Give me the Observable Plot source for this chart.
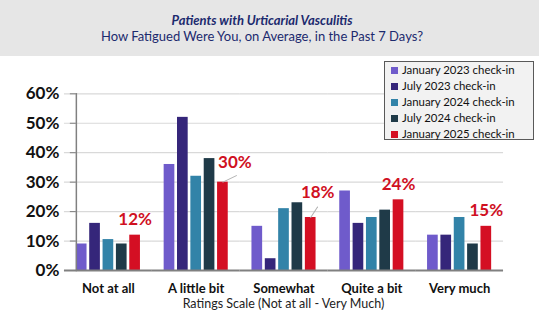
<!DOCTYPE html>
<html>
<head>
<meta charset="utf-8">
<script src="https://cdn.jsdelivr.net/npm/d3@7"></script>
<script src="https://cdn.jsdelivr.net/npm/@observablehq/plot@0.6"></script>
<style>
  html, body { margin: 0; padding: 0; background: #fff; }
  #wrap { position: relative; width: 539px; height: 331px; overflow: hidden; font-family: Lato, "Open Sans", sans-serif; }
  #header { position: absolute; left: 0; top: 0; width: 539px; height: 56px; background: #e6e6e6; }
  #title, #subtitle { position: absolute; left: 0; width: 524px; text-align: center; color: #1c2a6e; font-size: 13px; line-height: 13px; white-space: nowrap; }
  #title { top: 14px; font-weight: bold; font-style: italic; }
  #subtitle { top: 30px; }
  #chart { position: absolute; left: 0; top: 56px; }
  #xlabel { position: absolute; left: 64px; width: 439px; top: 298px; text-align: center; font-size: 12.5px; line-height: 12px; color: #222; white-space: nowrap; }
  #legend { position: absolute; left: 384px; top: 61px; width: 150px; height: 79px; background: #f2f2f2; border: 1px solid #595959; box-sizing: border-box; padding: 0 0 0 6px; }
  .lg { height: 16px; line-height: 16px; font-size: 11.4px; color: #111; white-space: nowrap; }
  .sw { display: inline-block; width: 7px; height: 7px; margin-right: 4px; vertical-align: 0px; }
</style>
</head>
<body>
<div id="wrap">
  <div id="header">
    <div id="title">Patients with Urticarial Vasculitis</div>
    <div id="subtitle">How Fatigued Were You, on Average, in the Past 7 Days?</div>
  </div>
  <div id="chart"></div>
  <div id="xlabel">Ratings Scale (Not at all - Very Much)</div>
  <div id="legend"></div>
</div>
<script>
const categories = ["Not at all", "A little bit", "Somewhat", "Quite a bit", "Very much"];
const series = ["January 2023 check-in", "July 2023 check-in", "January 2024 check-in", "July 2024 check-in", "January 2025 check-in"];
const jan2023 = [0.09, 0.36, 0.15, 0.27, 0.12];
const jul2023 = [0.16, 0.52, 0.04, 0.16, 0.12];
const jan2024 = [0.105, 0.32, 0.21, 0.18, 0.18];
const jul2024 = [0.09, 0.38, 0.23, 0.205, 0.09];
const jan2025 = [0.12, 0.30, 0.18, 0.24, 0.15];
const seriesColors = ["#6f5bcb", "#35267a", "#3283a8", "#1f3a48", "#d40f23"];
const yTicks = [0, 0.1, 0.2, 0.3, 0.4, 0.5, 0.6];

const allValues = [jan2023, jul2023, jan2024, jul2024, jan2025];
const data = [];
categories.forEach((c, i) => series.forEach((s, j) => data.push({category: c, series: s, value: allValues[j][i]})));
const labels = categories.map((c, i) => ({category: c, series: series[4], value: jan2025[i], text: Math.round(jan2025[i] * 100) + "%"}));
const centered = labels.filter(d => ["Not at all", "Quite a bit", "Very much"].includes(d.category));
const lab30 = labels.filter(d => d.category === "A little bit");
const lab18 = labels.filter(d => d.category === "Somewhat");
const line = {draw(context, l) { context.moveTo(0, 0); context.lineTo(0, -l); }};
const ext = -11.9; // extend per-facet rules across the gaps between facets

const plot = Plot.plot({
  width: 539,
  height: 244,
  marginLeft: 64,
  marginRight: 36,
  marginTop: 37.3,
  marginBottom: 30,
  style: {fontFamily: "Lato, 'Open Sans', sans-serif", background: "transparent", overflow: "visible"},
  fx: {domain: categories, paddingInner: 0.27, paddingOuter: 0.135, round: false},
  x: {domain: series, paddingInner: 0.2, paddingOuter: 0, round: false, axis: null},
  y: {domain: [0, 0.6]},
  color: {domain: series, range: seriesColors},
  marks: [
    Plot.ruleY(yTicks.slice(1), {stroke: "#d9d9d9", strokeWidth: 1.2, insetLeft: ext, insetRight: ext}),
    Plot.barY(data, {fx: "category", x: "series", y: "value", fill: "series"}),
    Plot.ruleY([0], {stroke: "#808080", strokeWidth: 2, insetLeft: ext, insetRight: ext}),
    Plot.frame({anchor: "left", stroke: "#808080", strokeWidth: 1.5, facet: "super"}),
    Plot.axisY({ticks: yTicks, tickFormat: d => Math.round(d * 100) + "%", tickSize: 6, tickPadding: 11, label: null, fontSize: 17, fontWeight: "bold", fill: "#111", stroke: "#808080"}),
    Plot.axisFx({anchor: "bottom", tickSize: 0, tickPadding: 13, label: null, fontSize: 13, fontWeight: "bold", fill: "#111"}),
    Plot.text(centered, {fx: "category", x: "series", y: "value", text: "text", lineAnchor: "bottom", dy: -10, fill: "#d0101f", fontSize: 17, fontWeight: "bold"}),
    Plot.text(lab30, {fx: "category", x: "series", y: "value", text: "text", lineAnchor: "bottom", dx: 12, dy: -14, fill: "#d0101f", fontSize: 17, fontWeight: "bold"}),
    Plot.text(lab18, {fx: "category", x: "series", y: "value", text: "text", lineAnchor: "bottom", dx: 7, dy: -19, fill: "#d0101f", fontSize: 17, fontWeight: "bold"}),
    Plot.vector(lab30, {fx: "category", x: "series", y: "value", length: 15, rotate: 64, anchor: "start", shape: line, stroke: "#b0b0b0", strokeWidth: 1}),
    Plot.vector(lab18, {fx: "category", x: "series", y: "value", length: 12.5, rotate: 33, anchor: "start", shape: line, stroke: "#b0b0b0", strokeWidth: 1})
  ]
});
document.getElementById("chart").appendChild(plot);

const legend = document.getElementById("legend");
series.forEach((s, j) => {
  const row = document.createElement("div");
  row.className = "lg";
  const sw = document.createElement("span");
  sw.className = "sw";
  sw.style.background = seriesColors[j];
  row.appendChild(sw);
  row.appendChild(document.createTextNode(s));
  legend.appendChild(row);
});
</script>
</body>
</html>
